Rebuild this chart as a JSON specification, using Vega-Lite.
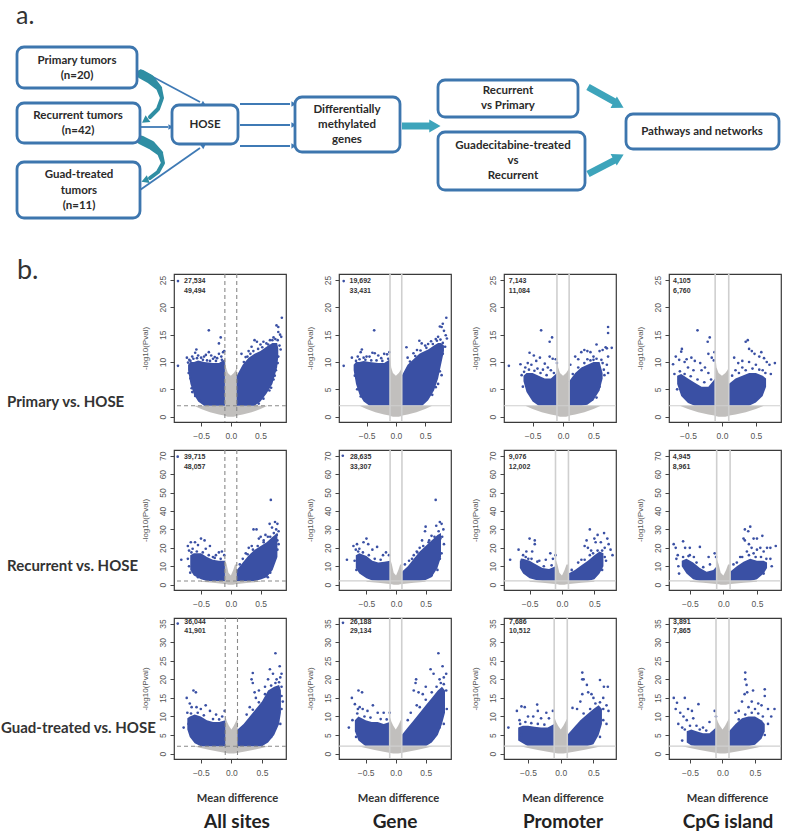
{"$schema":"https://vega.github.io/schema/vega-lite/v6.json","padding":0,"background":"white","spacing":7,
"config":{"view":{"stroke":"#3a3a3a","strokeWidth":1.2},
"axis":{"grid":false,"domain":false,"tickColor":"#444","tickSize":4,"labelColor":"#555","labelFont":"Liberation Sans","labelFontSize":8.5,"titleColor":"#555","titleFont":"Liberation Sans","titleFontSize":8,"titleFontWeight":"normal"},
"axisX":{"labelPadding":5,"titlePadding":16},
"axisY":{"labelAngle":-90,"labelPadding":3,"titlePadding":9},
"circle":{"color":"#3a50a4","size":7,"opacity":1},
"text":{"font":"Liberation Sans","fontSize":7,"fontWeight":"bold","align":"left","color":"#333"}},
"datasets":{
"vl":[{"x":-0.1},{"x":0.1}],"hl":[{"y":2}],
"boxes":[{"x":17,"x2":137,"y":47,"y2":88},{"x":17,"x2":140,"y":103,"y2":143},{"x":17,"x2":140,"y":162,"y2":218},{"x":172,"x2":238,"y":105,"y2":144},{"x":295,"x2":400,"y":97,"y2":152},{"x":438,"x2":578,"y":80,"y2":117},{"x":438,"x2":585,"y":132,"y2":190},{"x":626,"x2":779,"y":114,"y2":149}],
"thin":[{"x":140,"y":70,"x2":200,"y2":102},{"x":140,"y":127,"x2":168,"y2":127},{"x":140,"y":190,"x2":200,"y2":148},{"x":240,"y":104,"x2":290,"y2":104},{"x":240,"y":125,"x2":290,"y2":125},{"x":240,"y":146,"x2":290,"y2":146}],
"thinHead":[{"x":203,"y":104,"dir":118},{"x":170,"y":127,"dir":90},{"x":203,"y":146,"dir":55},{"x":293,"y":104,"dir":90},{"x":293,"y":125,"dir":90},{"x":293,"y":146,"dir":90}],
"thick":[{"x":402,"y":126,"x2":432,"y2":126},{"x":588,"y":87,"x2":615,"y2":102},{"x":588,"y":174,"x2":615,"y2":160}],
"thickHead":[{"x":433,"y":126,"dir":90},{"x":617,"y":104,"dir":119},{"x":617,"y":158,"dir":62}],
"curve":[{"k":"a","o":1,"x":141,"y":74,"w":9},{"k":"a","o":2,"x":150,"y":79,"w":9},{"k":"a","o":3,"x":159,"y":88,"w":6},{"k":"a","o":4,"x":162,"y":98,"w":4},{"k":"a","o":5,"x":158,"y":109,"w":4},{"k":"a","o":6,"x":150,"y":117,"w":4},{"k":"b","o":1,"x":141,"y":140,"w":9},{"k":"b","o":2,"x":151,"y":145,"w":9},{"k":"b","o":3,"x":160,"y":153,"w":6},{"k":"b","o":4,"x":163,"y":163,"w":4},{"k":"b","o":5,"x":158,"y":172,"w":4},{"k":"b","o":6,"x":150,"y":178,"w":4}],
"curveHead":[{"x":146,"y":120,"dir":235},{"x":146,"y":180,"dir":250}],
"flowText":[{"x":77,"y":61,"t":"Primary tumors"},{"x":77,"y":76,"t":"(n=20)"},{"x":78,"y":116,"t":"Recurrent tumors"},{"x":78,"y":131,"t":"(n=42)"},{"x":79,"y":175,"t":"Guad-treated"},{"x":79,"y":191,"t":"tumors"},{"x":79,"y":206,"t":"(n=11)"},{"x":205,"y":125,"t":"HOSE"},{"x":347,"y":110,"t":"Differentially"},{"x":347,"y":125,"t":"methylated"},{"x":347,"y":140,"t":"genes"},{"x":508,"y":91,"t":"Recurrent"},{"x":508,"y":106,"t":"vs Primary"},{"x":513,"y":146,"t":"Guadecitabine-treated"},{"x":513,"y":161,"t":"vs"},{"x":513,"y":176,"t":"Recurrent"},{"x":702,"y":132,"t":"Pathways and networks"}],
"g1":[{"x":-0.62,"y":2,"y2":2},{"x":-0.5,"y":1.4,"y2":2},{"x":-0.35,"y":0.8,"y2":2},{"x":-0.2,"y":0.4,"y2":2},{"x":-0.11,"y":0.2,"y2":2},{"x":-0.1,"y":0.15,"y2":11.5},{"x":-0.08,"y":0.1,"y2":9},{"x":-0.05,"y":0,"y2":8},{"x":0,"y":0,"y2":7.5},{"x":0.05,"y":0,"y2":8},{"x":0.08,"y":0.1,"y2":8.5},{"x":0.1,"y":0.15,"y2":9},{"x":0.11,"y":0.2,"y2":2},{"x":0.2,"y":0.4,"y2":2},{"x":0.35,"y":0.8,"y2":2},{"x":0.5,"y":1.4,"y2":2},{"x":0.62,"y":2,"y2":2}],
"g2":[{"x":-0.5,"y":1.6,"y2":2},{"x":-0.3,"y":1,"y2":2},{"x":-0.11,"y":0.3,"y2":2},{"x":-0.1,"y":0.3,"y2":14},{"x":-0.07,"y":0.2,"y2":11},{"x":-0.04,"y":0,"y2":6.5},{"x":0,"y":0,"y2":5},{"x":0.04,"y":0,"y2":8},{"x":0.07,"y":0.2,"y2":11},{"x":0.1,"y":0.3,"y2":11},{"x":0.11,"y":0.3,"y2":2},{"x":0.3,"y":1,"y2":2},{"x":0.5,"y":1.6,"y2":2}],
"g3":[{"x":-0.62,"y":2,"y2":2},{"x":-0.5,"y":1.5,"y2":2},{"x":-0.35,"y":1,"y2":2},{"x":-0.2,"y":0.5,"y2":2},{"x":-0.11,"y":0.2,"y2":2},{"x":-0.1,"y":0.2,"y2":10},{"x":-0.07,"y":0.1,"y2":8.5},{"x":-0.04,"y":0,"y2":7.5},{"x":0,"y":0,"y2":6.5},{"x":0.04,"y":0,"y2":7.5},{"x":0.07,"y":0.1,"y2":8.5},{"x":0.1,"y":0.2,"y2":9.5},{"x":0.11,"y":0.2,"y2":2},{"x":0.2,"y":0.5,"y2":2},{"x":0.35,"y":1,"y2":2},{"x":0.5,"y":1.5,"y2":2},{"x":0.62,"y":2,"y2":2}],
"b11":[{"w":"L","x":-0.72,"y":8.5,"y2":9.5},{"w":"L","x":-0.68,"y":6,"y2":10},{"w":"L","x":-0.62,"y":4,"y2":10},{"w":"L","x":-0.55,"y":2.8,"y2":10.3},{"w":"L","x":-0.45,"y":2,"y2":10},{"w":"L","x":-0.3,"y":2,"y2":9.8},{"w":"L","x":-0.2,"y":2,"y2":9.8},{"w":"L","x":-0.1,"y":2,"y2":10.5},{"w":"R","x":0.1,"y":2,"y2":7.5},{"w":"R","x":0.15,"y":2,"y2":8.5},{"w":"R","x":0.2,"y":2,"y2":9.5},{"w":"R","x":0.3,"y":2,"y2":10.8},{"w":"R","x":0.4,"y":2,"y2":11.5},{"w":"R","x":0.5,"y":2.8,"y2":12},{"w":"R","x":0.6,"y":4.2,"y2":12.8},{"w":"R","x":0.7,"y":6,"y2":13.5},{"w":"R","x":0.78,"y":9,"y2":13.5},{"w":"R","x":0.8,"y":11,"y2":12.5}],
"p11":[{"x":-0.89,"y":24.8},{"x":-0.89,"y":9.3},{"x":-0.37,"y":15.8},{"x":-0.2,"y":13.4},{"x":-0.17,"y":14.5},{"x":-0.74,"y":10.8},{"x":-0.58,"y":12.3},{"x":-0.6,"y":11.7},{"x":-0.65,"y":11},{"x":-0.7,"y":10.4},{"x":-0.72,"y":9.9},{"x":-0.55,"y":11.2},{"x":-0.5,"y":10.8},{"x":-0.45,"y":11},{"x":-0.42,"y":11.3},{"x":-0.37,"y":11.8},{"x":-0.33,"y":11.2},{"x":-0.3,"y":10.6},{"x":-0.27,"y":10.9},{"x":-0.23,"y":10.7},{"x":-0.2,"y":11.5},{"x":-0.16,"y":11},{"x":-0.13,"y":11.8},{"x":-0.11,"y":12},{"x":-0.68,"y":7},{"x":-0.66,"y":5.2},{"x":-0.6,"y":3.8},{"x":-0.52,"y":2.9},{"x":0.86,"y":18.1},{"x":0.8,"y":16.4},{"x":0.77,"y":16.7},{"x":0.83,"y":15},{"x":0.85,"y":14.6},{"x":0.8,"y":15.5},{"x":0.72,"y":14.5},{"x":0.66,"y":14},{"x":0.6,"y":13.4},{"x":0.55,"y":13.7},{"x":0.5,"y":13.2},{"x":0.44,"y":13.7},{"x":0.4,"y":14},{"x":0.35,"y":12.8},{"x":0.3,"y":12},{"x":0.18,"y":11.5},{"x":0.25,"y":10.9},{"x":0.82,"y":13},{"x":0.84,"y":12.3},{"x":0.8,"y":11},{"x":0.76,"y":8.5},{"x":0.72,"y":6.8},{"x":0.65,"y":4.8},{"x":0.55,"y":3.3},{"x":-0.68,"y":10.2},{"x":-0.63,"y":10.6},{"x":-0.57,"y":10.7},{"x":-0.47,"y":10.4},{"x":-0.4,"y":10.3},{"x":-0.35,"y":10.2},{"x":-0.25,"y":10.2},{"x":-0.15,"y":10.4},{"x":-0.71,"y":8},{"x":-0.65,"y":4.5},{"x":0.22,"y":10},{"x":0.28,"y":11},{"x":0.33,"y":11.5},{"x":0.38,"y":12},{"x":0.46,"y":12.4},{"x":0.53,"y":12.7},{"x":0.63,"y":13.2},{"x":0.7,"y":14},{"x":0.75,"y":14.2},{"x":0.79,"y":14},{"x":0.79,"y":9.8},{"x":0.74,"y":7.5},{"x":0.68,"y":5.3},{"x":0.47,"y":2.4}],
"b12":[{"w":"L","x":-0.72,"y":8.5,"y2":9.5},{"w":"L","x":-0.68,"y":6,"y2":10},{"w":"L","x":-0.62,"y":4,"y2":10},{"w":"L","x":-0.55,"y":2.8,"y2":10.2},{"w":"L","x":-0.45,"y":2,"y2":10},{"w":"L","x":-0.3,"y":2,"y2":9.8},{"w":"L","x":-0.2,"y":2,"y2":9.8},{"w":"L","x":-0.1,"y":2,"y2":10.5},{"w":"R","x":0.1,"y":2,"y2":7.5},{"w":"R","x":0.2,"y":2,"y2":9.5},{"w":"R","x":0.3,"y":2,"y2":10.5},{"w":"R","x":0.4,"y":2,"y2":11.5},{"w":"R","x":0.45,"y":2,"y2":11.8},{"w":"R","x":0.55,"y":3,"y2":12.3},{"w":"R","x":0.65,"y":4.8,"y2":13},{"w":"R","x":0.72,"y":7,"y2":13.5},{"w":"R","x":0.77,"y":9.5,"y2":13.5},{"w":"R","x":0.82,"y":12,"y2":13}],
"p12":[{"x":-0.89,"y":24.8},{"x":-0.89,"y":9.3},{"x":-0.37,"y":15.8},{"x":-0.58,"y":12.3},{"x":-0.75,"y":10.8},{"x":-0.65,"y":11},{"x":-0.6,"y":11.8},{"x":-0.55,"y":10.8},{"x":-0.5,"y":11},{"x":-0.45,"y":11},{"x":-0.4,"y":11.7},{"x":-0.36,"y":11.6},{"x":-0.3,"y":11.2},{"x":-0.25,"y":10.7},{"x":-0.2,"y":11.5},{"x":-0.15,"y":11.4},{"x":-0.11,"y":11.8},{"x":0.18,"y":12.7},{"x":0.2,"y":10.8},{"x":0.3,"y":11.6},{"x":0.36,"y":12.2},{"x":0.4,"y":13.9},{"x":0.44,"y":13.4},{"x":0.5,"y":13},{"x":0.55,"y":13.3},{"x":0.6,"y":13.8},{"x":0.68,"y":14.2},{"x":0.72,"y":14.6},{"x":0.75,"y":16.5},{"x":0.78,"y":16.4},{"x":0.8,"y":17},{"x":0.86,"y":18.1},{"x":0.82,"y":15.7},{"x":0.85,"y":14.9},{"x":0.87,"y":14.3},{"x":0.8,"y":11.5},{"x":0.78,"y":7.6},{"x":0.72,"y":6},{"x":0.62,"y":4},{"x":-0.7,"y":7.5},{"x":-0.66,"y":5},{"x":-0.6,"y":3.7},{"x":-0.68,"y":10.2},{"x":-0.62,"y":10.5},{"x":-0.52,"y":10.4},{"x":-0.42,"y":10.3},{"x":-0.33,"y":10.3},{"x":-0.23,"y":10.2},{"x":-0.13,"y":10.6},{"x":0.24,"y":10.1},{"x":0.33,"y":11.1},{"x":0.42,"y":12.1},{"x":0.52,"y":12.6},{"x":0.63,"y":13.3},{"x":0.7,"y":13.9},{"x":0.76,"y":14.1},{"x":0.8,"y":13.5},{"x":0.84,"y":12.8},{"x":0.75,"y":8.3},{"x":0.68,"y":5.4}],
"b13":[{"w":"L","x":-0.65,"y":6.5,"y2":7.5},{"w":"L","x":-0.6,"y":4.5,"y2":8},{"w":"L","x":-0.5,"y":2.8,"y2":8},{"w":"L","x":-0.4,"y":2,"y2":7.5},{"w":"L","x":-0.3,"y":2,"y2":7},{"w":"L","x":-0.2,"y":2,"y2":7},{"w":"L","x":-0.1,"y":2,"y2":8},{"w":"R","x":0.1,"y":2,"y2":6.5},{"w":"R","x":0.2,"y":2,"y2":8},{"w":"R","x":0.3,"y":2,"y2":9},{"w":"R","x":0.4,"y":2.2,"y2":9.5},{"w":"R","x":0.5,"y":3,"y2":10},{"w":"R","x":0.6,"y":4.8,"y2":10},{"w":"R","x":0.65,"y":7,"y2":8}],
"p13":[{"x":-0.89,"y":9.3},{"x":-0.36,"y":15.8},{"x":-0.18,"y":14.5},{"x":-0.22,"y":13.7},{"x":-0.55,"y":11.7},{"x":-0.48,"y":11.2},{"x":-0.44,"y":10.2},{"x":-0.38,"y":10.8},{"x":-0.3,"y":9.7},{"x":-0.22,"y":11},{"x":-0.17,"y":10.6},{"x":-0.12,"y":10.5},{"x":-0.1,"y":9.8},{"x":-0.7,"y":9.6},{"x":-0.62,"y":9},{"x":-0.58,"y":9.8},{"x":-0.52,"y":9.5},{"x":-0.42,"y":8.8},{"x":-0.33,"y":8.6},{"x":-0.25,"y":9},{"x":-0.2,"y":8.5},{"x":-0.68,"y":7.6},{"x":-0.66,"y":5.5},{"x":0.12,"y":9.5},{"x":0.2,"y":11},{"x":0.25,"y":10.5},{"x":0.3,"y":11.8},{"x":0.35,"y":12.2},{"x":0.4,"y":12},{"x":0.45,"y":11.8},{"x":0.5,"y":11},{"x":0.55,"y":13.2},{"x":0.6,"y":12},{"x":0.65,"y":12.2},{"x":0.7,"y":12.7},{"x":0.72,"y":12.5},{"x":0.74,"y":16.4},{"x":0.74,"y":15.3},{"x":0.8,"y":12.6},{"x":0.74,"y":11},{"x":0.72,"y":9.5},{"x":0.74,"y":8},{"x":0.68,"y":7.6},{"x":0.65,"y":9.8},{"x":0.6,"y":5.5},{"x":0.55,"y":3.5},{"x":0.4,"y":10.5},{"x":0.5,"y":10.4},{"x":-0.64,"y":8.2},{"x":-0.56,"y":8.6},{"x":-0.47,"y":8.4},{"x":-0.37,"y":8},{"x":-0.27,"y":7.6},{"x":-0.15,"y":8},{"x":0.16,"y":7.8},{"x":0.25,"y":9},{"x":0.35,"y":9.8},{"x":0.45,"y":10.3},{"x":0.55,"y":10.6},{"x":0.63,"y":10.4},{"x":0.67,"y":8.6}],
"b14":[{"w":"L","x":-0.66,"y":6,"y2":7.5},{"w":"L","x":-0.6,"y":3.8,"y2":7.8},{"w":"L","x":-0.5,"y":2.5,"y2":7},{"w":"L","x":-0.4,"y":2,"y2":6.2},{"w":"L","x":-0.3,"y":2,"y2":5.5},{"w":"L","x":-0.2,"y":2,"y2":5.5},{"w":"L","x":-0.1,"y":2,"y2":7},{"w":"R","x":0.1,"y":2,"y2":6},{"w":"R","x":0.2,"y":2,"y2":7},{"w":"R","x":0.3,"y":2,"y2":7.5},{"w":"R","x":0.4,"y":2,"y2":8},{"w":"R","x":0.5,"y":2.6,"y2":8},{"w":"R","x":0.6,"y":3.8,"y2":7.5},{"w":"R","x":0.65,"y":5.5,"y2":7}],
"p14":[{"x":-0.36,"y":15.8},{"x":-0.18,"y":14.5},{"x":-0.21,"y":13.7},{"x":-0.59,"y":12.4},{"x":-0.6,"y":11.9},{"x":-0.68,"y":11},{"x":-0.72,"y":9.6},{"x":-0.63,"y":10.4},{"x":-0.55,"y":10},{"x":-0.52,"y":10.5},{"x":-0.45,"y":10.8},{"x":-0.4,"y":10.2},{"x":-0.32,"y":9.8},{"x":-0.25,"y":9},{"x":-0.2,"y":11.5},{"x":-0.15,"y":10.8},{"x":-0.11,"y":11.8},{"x":-0.12,"y":10.3},{"x":-0.5,"y":9},{"x":-0.42,"y":8.5},{"x":-0.3,"y":8.5},{"x":-0.2,"y":8},{"x":-0.7,"y":7.8},{"x":-0.66,"y":5},{"x":0.18,"y":10.8},{"x":0.24,"y":9.8},{"x":0.3,"y":10.2},{"x":0.35,"y":13.7},{"x":0.38,"y":14},{"x":0.4,"y":12.4},{"x":0.44,"y":12},{"x":0.48,"y":11.5},{"x":0.55,"y":11},{"x":0.58,"y":11.8},{"x":0.62,"y":10.7},{"x":0.66,"y":10},{"x":0.7,"y":9.5},{"x":0.78,"y":9.8},{"x":0.72,"y":7.8},{"x":0.6,"y":8.5},{"x":0.5,"y":9.5},{"x":0.4,"y":10},{"x":0.3,"y":9},{"x":0.2,"y":8.5},{"x":0.15,"y":7.5},{"x":0.62,"y":6},{"x":0.5,"y":3.2},{"x":-0.62,"y":8.3},{"x":-0.55,"y":7.8},{"x":-0.46,"y":7.4},{"x":-0.36,"y":6.8},{"x":-0.26,"y":6.3},{"x":-0.16,"y":6.8},{"x":0.25,"y":8},{"x":0.35,"y":8.5},{"x":0.45,"y":8.8},{"x":0.55,"y":8.6},{"x":0.64,"y":8}],
"b21":[{"w":"L","x":-0.68,"y":8,"y2":16},{"w":"L","x":-0.62,"y":5,"y2":17},{"w":"L","x":-0.5,"y":3,"y2":17},{"w":"L","x":-0.4,"y":2,"y2":15},{"w":"L","x":-0.3,"y":2,"y2":13.5},{"w":"L","x":-0.2,"y":2,"y2":13},{"w":"L","x":-0.1,"y":2,"y2":13},{"w":"R","x":0.1,"y":2,"y2":8},{"w":"R","x":0.2,"y":2,"y2":12},{"w":"R","x":0.3,"y":2,"y2":16},{"w":"R","x":0.4,"y":2,"y2":19},{"w":"R","x":0.5,"y":2.8,"y2":21},{"w":"R","x":0.6,"y":4,"y2":23},{"w":"R","x":0.7,"y":8,"y2":26},{"w":"R","x":0.78,"y":15,"y2":28}],
"p21":[{"x":-0.89,"y":69.5},{"x":-0.83,"y":13.5},{"x":-0.72,"y":21},{"x":-0.67,"y":23},{"x":-0.6,"y":23},{"x":-0.55,"y":21.5},{"x":-0.5,"y":25},{"x":-0.44,"y":24},{"x":-0.42,"y":19.5},{"x":-0.35,"y":21},{"x":-0.7,"y":18.5},{"x":-0.64,"y":19.5},{"x":-0.3,"y":15},{"x":-0.2,"y":17.5},{"x":-0.15,"y":18},{"x":-0.11,"y":16},{"x":-0.25,"y":16},{"x":-0.72,"y":14},{"x":-0.7,"y":10},{"x":-0.68,"y":6.5},{"x":0.67,"y":46},{"x":0.74,"y":34},{"x":0.78,"y":33},{"x":0.65,"y":33},{"x":0.69,"y":31},{"x":0.8,"y":29},{"x":0.77,"y":27},{"x":0.8,"y":22},{"x":0.78,"y":19},{"x":0.75,"y":15},{"x":0.62,"y":26},{"x":0.58,"y":27},{"x":0.55,"y":24},{"x":0.5,"y":26},{"x":0.47,"y":25},{"x":0.43,"y":30},{"x":0.38,"y":30},{"x":0.35,"y":21},{"x":0.3,"y":20},{"x":0.25,"y":17},{"x":0.2,"y":14},{"x":0.15,"y":11},{"x":0.7,"y":11},{"x":0.6,"y":6},{"x":0.62,"y":4},{"x":-0.55,"y":4},{"x":-0.66,"y":17.5},{"x":-0.57,"y":18},{"x":-0.47,"y":17.5},{"x":-0.37,"y":16},{"x":-0.27,"y":14.5},{"x":-0.17,"y":14},{"x":0.28,"y":16.5},{"x":0.37,"y":19},{"x":0.45,"y":21},{"x":0.55,"y":23},{"x":0.66,"y":26},{"x":0.72,"y":28},{"x":0.76,"y":30},{"x":0.78,"y":24},{"x":0.66,"y":6.5}],
"b22":[{"w":"L","x":-0.68,"y":9,"y2":16},{"w":"L","x":-0.62,"y":6,"y2":17},{"w":"L","x":-0.5,"y":3.5,"y2":15.5},{"w":"L","x":-0.4,"y":2.3,"y2":13},{"w":"L","x":-0.3,"y":2,"y2":12},{"w":"L","x":-0.2,"y":2,"y2":12.5},{"w":"L","x":-0.1,"y":2,"y2":13},{"w":"R","x":0.1,"y":2,"y2":7},{"w":"R","x":0.2,"y":2,"y2":10},{"w":"R","x":0.3,"y":2,"y2":14},{"w":"R","x":0.4,"y":2,"y2":18},{"w":"R","x":0.5,"y":2.5,"y2":21},{"w":"R","x":0.6,"y":4,"y2":24},{"w":"R","x":0.7,"y":9,"y2":27},{"w":"R","x":0.76,"y":15,"y2":28}],
"p22":[{"x":-0.9,"y":70},{"x":-0.83,"y":13.5},{"x":-0.72,"y":21},{"x":-0.66,"y":22},{"x":-0.62,"y":19.5},{"x":-0.55,"y":23},{"x":-0.5,"y":25},{"x":-0.47,"y":22},{"x":-0.4,"y":19},{"x":-0.32,"y":20.5},{"x":-0.22,"y":16},{"x":-0.17,"y":17.5},{"x":-0.12,"y":16},{"x":-0.68,"y":19},{"x":-0.7,"y":13},{"x":-0.67,"y":8},{"x":0.67,"y":46},{"x":0.74,"y":34},{"x":0.77,"y":33},{"x":0.68,"y":32},{"x":0.8,"y":30},{"x":0.78,"y":26},{"x":0.81,"y":22},{"x":0.77,"y":17},{"x":0.74,"y":14},{"x":0.5,"y":31.5},{"x":0.49,"y":29},{"x":0.6,"y":26.5},{"x":0.55,"y":23},{"x":0.44,"y":24},{"x":0.4,"y":20},{"x":0.35,"y":18},{"x":0.3,"y":16},{"x":0.22,"y":13},{"x":0.15,"y":11},{"x":0.7,"y":8},{"x":0.6,"y":5},{"x":-0.64,"y":18},{"x":-0.56,"y":17.5},{"x":-0.46,"y":16},{"x":-0.36,"y":14},{"x":-0.26,"y":13.5},{"x":0.27,"y":14},{"x":0.36,"y":17.5},{"x":0.46,"y":21},{"x":0.56,"y":24},{"x":0.65,"y":26},{"x":0.72,"y":29},{"x":0.75,"y":25}],
"b23":[{"w":"L","x":-0.65,"y":9,"y2":13},{"w":"L","x":-0.6,"y":6,"y2":14},{"w":"L","x":-0.5,"y":3.5,"y2":13},{"w":"L","x":-0.4,"y":2.5,"y2":11},{"w":"L","x":-0.3,"y":2,"y2":9},{"w":"L","x":-0.2,"y":2,"y2":8.5},{"w":"L","x":-0.1,"y":2,"y2":10},{"w":"R","x":0.1,"y":2,"y2":6},{"w":"R","x":0.2,"y":2,"y2":8},{"w":"R","x":0.3,"y":2,"y2":10.5},{"w":"R","x":0.4,"y":2,"y2":13},{"w":"R","x":0.5,"y":3,"y2":16},{"w":"R","x":0.58,"y":6,"y2":18},{"w":"R","x":0.64,"y":10,"y2":17}],
"p23":[{"x":-0.8,"y":13.5},{"x":-0.67,"y":19},{"x":-0.6,"y":16},{"x":-0.55,"y":18},{"x":-0.5,"y":25},{"x":-0.46,"y":18},{"x":-0.42,"y":24},{"x":-0.42,"y":22},{"x":-0.52,"y":14},{"x":-0.62,"y":13.5},{"x":-0.35,"y":13},{"x":-0.25,"y":13.5},{"x":-0.18,"y":17},{"x":-0.14,"y":14},{"x":-0.1,"y":16},{"x":-0.58,"y":9},{"x":0.3,"y":13.5},{"x":0.35,"y":21},{"x":0.38,"y":24},{"x":0.4,"y":20},{"x":0.43,"y":30},{"x":0.45,"y":18.5},{"x":0.5,"y":25},{"x":0.52,"y":23},{"x":0.55,"y":27},{"x":0.6,"y":23},{"x":0.65,"y":28},{"x":0.7,"y":25},{"x":0.72,"y":22},{"x":0.78,"y":16},{"x":0.75,"y":19},{"x":0.66,"y":20},{"x":0.68,"y":13},{"x":0.62,"y":8},{"x":0.25,"y":12},{"x":0.15,"y":8},{"x":-0.56,"y":15},{"x":-0.47,"y":14},{"x":-0.38,"y":12.5},{"x":-0.28,"y":10},{"x":-0.16,"y":10.5},{"x":0.35,"y":13.5},{"x":0.43,"y":16},{"x":0.48,"y":17},{"x":0.55,"y":18.5},{"x":0.62,"y":18.5},{"x":0.66,"y":15}],
"b24":[{"w":"L","x":-0.62,"y":10,"y2":13},{"w":"L","x":-0.55,"y":6,"y2":14},{"w":"L","x":-0.45,"y":3,"y2":12},{"w":"L","x":-0.35,"y":2,"y2":9},{"w":"L","x":-0.25,"y":2,"y2":7},{"w":"L","x":-0.15,"y":2,"y2":8},{"w":"L","x":-0.1,"y":2,"y2":10},{"w":"R","x":0.1,"y":2,"y2":7},{"w":"R","x":0.2,"y":2,"y2":10},{"w":"R","x":0.3,"y":2,"y2":12.5},{"w":"R","x":0.4,"y":2,"y2":14},{"w":"R","x":0.5,"y":3,"y2":13},{"w":"R","x":0.6,"y":6,"y2":13},{"w":"R","x":0.65,"y":9,"y2":12}],
"p24":[{"x":-0.74,"y":22},{"x":-0.71,"y":20},{"x":-0.6,"y":23.5},{"x":-0.57,"y":20},{"x":-0.5,"y":20},{"x":-0.35,"y":20.5},{"x":-0.68,"y":16},{"x":-0.7,"y":14},{"x":-0.67,"y":10},{"x":-0.66,"y":6},{"x":-0.5,"y":16},{"x":-0.44,"y":15},{"x":-0.22,"y":15},{"x":-0.13,"y":17},{"x":-0.11,"y":15},{"x":-0.2,"y":11},{"x":0.32,"y":30},{"x":0.4,"y":31.5},{"x":0.37,"y":29},{"x":0.3,"y":25},{"x":0.32,"y":24},{"x":0.38,"y":22},{"x":0.45,"y":25},{"x":0.5,"y":25},{"x":0.58,"y":26.5},{"x":0.42,"y":20},{"x":0.5,"y":19},{"x":0.55,"y":20},{"x":0.6,"y":18},{"x":0.65,"y":20},{"x":0.7,"y":20},{"x":0.78,"y":21},{"x":0.7,"y":14},{"x":0.72,"y":10},{"x":0.25,"y":15},{"x":0.2,"y":12},{"x":0.15,"y":11},{"x":0.6,"y":6},{"x":0.35,"y":18},{"x":0.45,"y":17},{"x":-0.6,"y":15},{"x":-0.52,"y":15.5},{"x":-0.4,"y":12},{"x":-0.3,"y":9.5},{"x":0.28,"y":15},{"x":0.38,"y":16},{"x":0.48,"y":15},{"x":0.56,"y":15},{"x":0.64,"y":14}],
"b31":[{"w":"L","x":-0.72,"y":6.5,"y2":9.5},{"w":"L","x":-0.68,"y":4.5,"y2":10},{"w":"L","x":-0.6,"y":2.8,"y2":10.5},{"w":"L","x":-0.5,"y":2,"y2":10},{"w":"L","x":-0.4,"y":2,"y2":9},{"w":"L","x":-0.3,"y":2,"y2":8.5},{"w":"L","x":-0.2,"y":2,"y2":8.5},{"w":"L","x":-0.1,"y":2,"y2":9},{"w":"R","x":0.1,"y":2,"y2":6.5},{"w":"R","x":0.2,"y":2,"y2":8},{"w":"R","x":0.3,"y":2,"y2":10},{"w":"R","x":0.4,"y":2,"y2":12},{"w":"R","x":0.5,"y":2,"y2":14},{"w":"R","x":0.6,"y":3,"y2":17},{"w":"R","x":0.7,"y":5,"y2":18},{"w":"R","x":0.78,"y":8,"y2":18.5},{"w":"R","x":0.81,"y":11,"y2":17}],
"p31":[{"x":-0.877,"y":35},{"x":-0.78,"y":7},{"x":-0.73,"y":15},{"x":-0.62,"y":17},{"x":-0.58,"y":16.5},{"x":-0.68,"y":13.5},{"x":-0.65,"y":12.5},{"x":-0.57,"y":12.5},{"x":-0.5,"y":12},{"x":-0.42,"y":13},{"x":-0.35,"y":11.5},{"x":-0.25,"y":10.5},{"x":-0.15,"y":10},{"x":-0.11,"y":11.5},{"x":-0.72,"y":11},{"x":-0.7,"y":8},{"x":0.72,"y":27},{"x":0.79,"y":23.5},{"x":0.63,"y":22.7},{"x":0.68,"y":21.5},{"x":0.35,"y":21.7},{"x":0.33,"y":20},{"x":0.35,"y":19},{"x":0.82,"y":21.5},{"x":0.8,"y":20.5},{"x":0.74,"y":20},{"x":0.6,"y":20},{"x":0.55,"y":18},{"x":0.45,"y":17},{"x":0.38,"y":16.5},{"x":0.4,"y":15},{"x":0.3,"y":12.5},{"x":0.25,"y":10.5},{"x":0.82,"y":18},{"x":0.84,"y":14},{"x":0.82,"y":12},{"x":0.8,"y":8},{"x":0.72,"y":7},{"x":0.65,"y":4.5},{"x":0.5,"y":2.5},{"x":-0.66,"y":10.8},{"x":-0.55,"y":11},{"x":-0.45,"y":10.3},{"x":-0.3,"y":9.3},{"x":-0.2,"y":9.2},{"x":0.35,"y":11.8},{"x":0.45,"y":13.8},{"x":0.55,"y":16},{"x":0.65,"y":18.3},{"x":0.72,"y":19},{"x":0.78,"y":19.2},{"x":0.82,"y":15.5}],
"b32":[{"w":"L","x":-0.68,"y":6,"y2":9},{"w":"L","x":-0.62,"y":3.5,"y2":10},{"w":"L","x":-0.5,"y":2,"y2":9},{"w":"L","x":-0.4,"y":2,"y2":8.5},{"w":"L","x":-0.3,"y":2,"y2":8.5},{"w":"L","x":-0.2,"y":2,"y2":8},{"w":"L","x":-0.1,"y":2,"y2":8.5},{"w":"R","x":0.1,"y":2,"y2":5},{"w":"R","x":0.2,"y":2,"y2":7},{"w":"R","x":0.3,"y":2,"y2":9},{"w":"R","x":0.4,"y":2,"y2":11},{"w":"R","x":0.5,"y":2,"y2":13},{"w":"R","x":0.6,"y":3,"y2":15},{"w":"R","x":0.7,"y":5,"y2":17},{"w":"R","x":0.77,"y":8,"y2":18},{"w":"R","x":0.82,"y":11,"y2":17}],
"p32":[{"x":-0.878,"y":35.2},{"x":-0.78,"y":7},{"x":-0.73,"y":15},{"x":-0.62,"y":17},{"x":-0.56,"y":16.5},{"x":-0.68,"y":13.3},{"x":-0.63,"y":12},{"x":-0.6,"y":12.5},{"x":-0.55,"y":12},{"x":-0.47,"y":11.5},{"x":-0.38,"y":13},{"x":-0.3,"y":11},{"x":-0.2,"y":11},{"x":-0.1,"y":11},{"x":-0.72,"y":9},{"x":-0.66,"y":4.5},{"x":0.71,"y":27},{"x":0.78,"y":23.5},{"x":0.58,"y":22.7},{"x":0.63,"y":21.5},{"x":0.34,"y":20},{"x":0.33,"y":19},{"x":0.3,"y":17},{"x":0.38,"y":16.5},{"x":0.84,"y":21.5},{"x":0.8,"y":20.5},{"x":0.73,"y":20},{"x":0.5,"y":18},{"x":0.45,"y":16},{"x":0.35,"y":13},{"x":0.25,"y":11},{"x":0.2,"y":9},{"x":0.84,"y":17},{"x":0.85,"y":12},{"x":0.8,"y":8},{"x":0.73,"y":7},{"x":0.62,"y":4},{"x":0.5,"y":2.5},{"x":-0.64,"y":10.8},{"x":-0.52,"y":10},{"x":-0.42,"y":9.7},{"x":-0.25,"y":9.3},{"x":-0.15,"y":9.2},{"x":0.4,"y":12.5},{"x":0.5,"y":14.5},{"x":0.6,"y":16.5},{"x":0.68,"y":18},{"x":0.75,"y":19},{"x":0.8,"y":18.7}],
"b33":[{"w":"L","x":-0.65,"y":3.5,"y2":7},{"w":"L","x":-0.58,"y":2.8,"y2":7.5},{"w":"L","x":-0.5,"y":2,"y2":7.5},{"w":"L","x":-0.4,"y":2,"y2":7.2},{"w":"L","x":-0.3,"y":2,"y2":7},{"w":"L","x":-0.2,"y":2,"y2":7},{"w":"L","x":-0.1,"y":2,"y2":8},{"w":"R","x":0.1,"y":2,"y2":5},{"w":"R","x":0.2,"y":2,"y2":7},{"w":"R","x":0.3,"y":2,"y2":9},{"w":"R","x":0.4,"y":2,"y2":10.5},{"w":"R","x":0.5,"y":2.5,"y2":12},{"w":"R","x":0.58,"y":5,"y2":13},{"w":"R","x":0.63,"y":8,"y2":12}],
"p33":[{"x":-0.8,"y":7},{"x":-0.67,"y":11.5},{"x":-0.6,"y":12.7},{"x":-0.55,"y":12.5},{"x":-0.63,"y":9},{"x":-0.5,"y":10},{"x":-0.42,"y":10},{"x":-0.36,"y":13.2},{"x":-0.35,"y":11.5},{"x":-0.3,"y":9.5},{"x":-0.22,"y":11},{"x":-0.12,"y":11.5},{"x":-0.18,"y":9.5},{"x":-0.6,"y":5},{"x":0.18,"y":12.3},{"x":0.3,"y":14},{"x":0.33,"y":21.8},{"x":0.33,"y":20},{"x":0.35,"y":20},{"x":0.4,"y":18.5},{"x":0.33,"y":16},{"x":0.42,"y":16.5},{"x":0.47,"y":16},{"x":0.5,"y":15},{"x":0.6,"y":19.8},{"x":0.66,"y":18},{"x":0.72,"y":18},{"x":0.65,"y":15},{"x":0.7,"y":13},{"x":0.73,"y":11.5},{"x":0.7,"y":8},{"x":0.65,"y":9},{"x":0.25,"y":12},{"x":0.6,"y":4.5},{"x":0.45,"y":3},{"x":-0.62,"y":8},{"x":-0.54,"y":8.5},{"x":-0.45,"y":8.2},{"x":-0.35,"y":8},{"x":-0.25,"y":7.8},{"x":0.35,"y":10.8},{"x":0.45,"y":12},{"x":0.53,"y":13.5},{"x":0.6,"y":13.8},{"x":0.65,"y":12}],
"b34":[{"w":"L","x":-0.55,"y":3,"y2":6},{"w":"L","x":-0.48,"y":2.2,"y2":6.5},{"w":"L","x":-0.4,"y":2,"y2":6},{"w":"L","x":-0.3,"y":2,"y2":5.5},{"w":"L","x":-0.2,"y":2,"y2":5.5},{"w":"L","x":-0.1,"y":2,"y2":7},{"w":"R","x":0.1,"y":2,"y2":6},{"w":"R","x":0.2,"y":2,"y2":8},{"w":"R","x":0.3,"y":2,"y2":9.5},{"w":"R","x":0.4,"y":2,"y2":10},{"w":"R","x":0.5,"y":2.4,"y2":10},{"w":"R","x":0.6,"y":4,"y2":9},{"w":"R","x":0.65,"y":6,"y2":8}],
"p34":[{"x":-0.75,"y":15},{"x":-0.7,"y":13.7},{"x":-0.58,"y":15},{"x":-0.72,"y":12},{"x":-0.65,"y":11},{"x":-0.53,"y":12},{"x":-0.47,"y":11.5},{"x":-0.37,"y":13.3},{"x":-0.6,"y":10},{"x":-0.55,"y":9},{"x":-0.45,"y":9.5},{"x":-0.68,"y":8},{"x":-0.62,"y":7},{"x":-0.62,"y":3.5},{"x":-0.4,"y":7.5},{"x":-0.3,"y":7},{"x":-0.2,"y":8.5},{"x":-0.12,"y":11.5},{"x":-0.1,"y":10},{"x":0.35,"y":21.8},{"x":0.35,"y":20},{"x":0.37,"y":18.5},{"x":0.47,"y":17},{"x":0.65,"y":17.3},{"x":0.65,"y":15.5},{"x":0.38,"y":16.5},{"x":0.34,"y":16},{"x":0.3,"y":14},{"x":0.45,"y":14},{"x":0.55,"y":13.5},{"x":0.6,"y":13},{"x":0.7,"y":12},{"x":0.8,"y":12},{"x":0.75,"y":10},{"x":0.7,"y":8},{"x":0.2,"y":11},{"x":0.25,"y":11.5},{"x":0.4,"y":12.5},{"x":0.5,"y":12},{"x":0.65,"y":5},{"x":-0.58,"y":6.5},{"x":-0.5,"y":7.5},{"x":-0.35,"y":6.5},{"x":-0.25,"y":6.2},{"x":0.25,"y":9.2},{"x":0.35,"y":10.5},{"x":0.45,"y":11},{"x":0.55,"y":10.8},{"x":0.62,"y":10}]
},
"vconcat":[
{"width":800,"height":250,"view":{"stroke":null},
"encoding":{"x":{"field":"x","type":"quantitative","scale":{"domain":[0,800]},"axis":null},"y":{"field":"y","type":"quantitative","scale":{"domain":[250,0]},"axis":null}},
"layer":[
{"data":{"name":"thin"},"mark":{"type":"rule","stroke":"#3f7ab5","strokeWidth":1.8},"encoding":{"x2":{"field":"x2"},"y2":{"field":"y2"}}},
{"data":{"name":"thinHead"},"mark":{"type":"point","shape":"triangle","filled":true,"color":"#3f7ab5","size":32,"opacity":1},"encoding":{"angle":{"field":"dir","type":"quantitative","scale":null}}},
{"data":{"name":"thick"},"mark":{"type":"rule","stroke":"#3da4bb","strokeWidth":7},"encoding":{"x2":{"field":"x2"},"y2":{"field":"y2"}}},
{"data":{"name":"thickHead"},"mark":{"type":"point","shape":"triangle","filled":true,"color":"#3da4bb","size":170,"opacity":1},"encoding":{"angle":{"field":"dir","type":"quantitative","scale":null}}},
{"data":{"name":"curve"},"mark":{"type":"trail","color":"#2f8ea3"},"encoding":{"size":{"field":"w","type":"quantitative","scale":null},"detail":{"field":"k"},"order":{"field":"o"}}},
{"data":{"name":"curveHead"},"mark":{"type":"point","shape":"triangle","filled":true,"color":"#2f8ea3","size":70,"opacity":1},"encoding":{"angle":{"field":"dir","type":"quantitative","scale":null}}},
{"data":{"name":"boxes"},"mark":{"type":"rect","cornerRadius":7,"fill":"white","stroke":"#3d76ae","strokeWidth":2.8},"encoding":{"x2":{"field":"x2"},"y2":{"field":"y2"}}},
{"data":{"name":"flowText"},"mark":{"type":"text","font":"Lato","fontSize":11.5,"fontWeight":"bold","align":"center","baseline":"middle","color":"#2a2a2a"},"encoding":{"text":{"field":"t"}}},
{"data":{"values":[{"x":16,"y":24,"t":"a."}]},"mark":{"type":"text","font":"Lato","fontSize":25,"fontWeight":"normal","align":"left","baseline":"alphabetic","color":"#333"},"encoding":{"text":{"field":"t"}}}
]},
{"hconcat":[
{"width":121,"height":148,"view":{"stroke":null},"data":{"values":[{"x":7,"y":400,"t":"Primary vs. HOSE","k":"r"},{"x":17,"y":277,"t":"b.","k":"h"}]},
"encoding":{"x":{"field":"x","type":"quantitative","scale":{"domain":[0,121]},"axis":null},"y":{"field":"y","type":"quantitative","scale":{"domain":[420,272]},"axis":null},"text":{"field":"t"}},
"layer":[{"transform":[{"filter":"datum.k=='r'"}],"mark":{"type":"text","font":"Lato","fontSize":15,"fontWeight":"bold","baseline":"middle","color":"#333"}},{"transform":[{"filter":"datum.k=='h'"}],"mark":{"type":"text","font":"Lato","fontSize":27,"fontWeight":"normal","baseline":"alphabetic","color":"#333"}}]},
{"width":112,"height":148,"layer":[{"data":{"name":"g1"},"mark":{"type":"area","color":"#c1bfbd"},"encoding":{"y2":{"field":"y2"}}},{"data":{"name":"b11"},"mark":{"type":"area","color":"#3a50a4"},"encoding":{"y2":{"field":"y2"},"detail":{"field":"w"}}},{"data":{"name":"p11"},"mark":"circle"},{"data":{"name":"vl"},"mark":{"type":"rule","color":"#8a8a8a","strokeDash":[4,3],"strokeWidth":1.1},"encoding":{"y":null}},{"data":{"name":"hl"},"mark":{"type":"rule","color":"#8a8a8a","strokeDash":[4,3],"strokeWidth":1.1},"encoding":{"x":null}},{"data":{"values":[{"x":-0.787,"y":24.8,"t":"27,534"},{"x":-0.787,"y":23,"t":"49,494"}]},"mark":{"type":"text","baseline":"middle"},"encoding":{"text":{"field":"t"}}}],
"encoding":{"x":{"field":"x","type":"quantitative","scale":{"domain":[-0.957,0.93]},"axis":{"values":[-0.5,0,0.5],"format":".1f","title":null}},"y":{"field":"y","type":"quantitative","scale":{"domain":[-0.97,26.1]},"axis":{"values":[0,5,10,15,20,25],"title":"-log10(Pval)"}}}},
{"width":112,"height":148,"layer":[{"data":{"name":"g1"},"mark":{"type":"area","color":"#c1bfbd"},"encoding":{"y2":{"field":"y2"}}},{"data":{"name":"b12"},"mark":{"type":"area","color":"#3a50a4"},"encoding":{"y2":{"field":"y2"},"detail":{"field":"w"}}},{"data":{"name":"p12"},"mark":"circle"},{"data":{"name":"vl"},"mark":{"type":"rule","color":"#cfcfcf","strokeWidth":1.6},"encoding":{"y":null}},{"data":{"name":"hl"},"mark":{"type":"rule","color":"#cfcfcf","strokeWidth":1.2},"encoding":{"x":null}},{"data":{"values":[{"x":-0.79,"y":24.8,"t":"19,692"},{"x":-0.79,"y":23,"t":"33,431"}]},"mark":{"type":"text","baseline":"middle"},"encoding":{"text":{"field":"t"}}}],
"encoding":{"x":{"field":"x","type":"quantitative","scale":{"domain":[-0.97,0.94]},"axis":{"values":[-0.5,0,0.5],"format":".1f","title":null}},"y":{"field":"y","type":"quantitative","scale":{"domain":[-0.97,26.1]},"axis":{"values":[0,5,10,15,20,25],"title":"-log10(Pval)"}}}},
{"width":112,"height":148,"layer":[{"data":{"name":"g1"},"mark":{"type":"area","color":"#c1bfbd"},"encoding":{"y2":{"field":"y2"}}},{"data":{"name":"b13"},"mark":{"type":"area","color":"#3a50a4"},"encoding":{"y2":{"field":"y2"},"detail":{"field":"w"}}},{"data":{"name":"p13"},"mark":"circle"},{"data":{"name":"vl"},"mark":{"type":"rule","color":"#cfcfcf","strokeWidth":1.6},"encoding":{"y":null}},{"data":{"name":"hl"},"mark":{"type":"rule","color":"#cfcfcf","strokeWidth":1.2},"encoding":{"x":null}},{"data":{"values":[{"x":-0.89,"y":24.8,"t":"7,143"},{"x":-0.89,"y":23,"t":"11,084"}]},"mark":{"type":"text","baseline":"middle"},"encoding":{"text":{"field":"t"}}}],
"encoding":{"x":{"field":"x","type":"quantitative","scale":{"domain":[-0.97,0.87]},"axis":{"values":[-0.5,0,0.5],"format":".1f","title":null}},"y":{"field":"y","type":"quantitative","scale":{"domain":[-0.97,26.1]},"axis":{"values":[0,5,10,15,20,25],"title":"-log10(Pval)"}}}},
{"width":112,"height":148,"layer":[{"data":{"name":"g1"},"mark":{"type":"area","color":"#c1bfbd"},"encoding":{"y2":{"field":"y2"}}},{"data":{"name":"b14"},"mark":{"type":"area","color":"#3a50a4"},"encoding":{"y2":{"field":"y2"},"detail":{"field":"w"}}},{"data":{"name":"p14"},"mark":"circle"},{"data":{"name":"vl"},"mark":{"type":"rule","color":"#cfcfcf","strokeWidth":1.6},"encoding":{"y":null}},{"data":{"name":"hl"},"mark":{"type":"rule","color":"#cfcfcf","strokeWidth":1.2},"encoding":{"x":null}},{"data":{"values":[{"x":-0.72,"y":24.8,"t":"4,105"},{"x":-0.72,"y":23,"t":"6,760"}]},"mark":{"type":"text","baseline":"middle"},"encoding":{"text":{"field":"t"}}}],
"encoding":{"x":{"field":"x","type":"quantitative","scale":{"domain":[-0.78,0.87]},"axis":{"values":[-0.5,0,0.5],"format":".1f","title":null}},"y":{"field":"y","type":"quantitative","scale":{"domain":[-0.97,26.1]},"axis":{"values":[0,5,10,15,20,25],"title":"-log10(Pval)"}}}}
],"spacing":53,"bounds":"flush"},
{"hconcat":[
{"width":121,"height":140,"view":{"stroke":null},"data":{"values":[{"x":7,"y":565,"t":"Recurrent vs. HOSE"}]},"mark":{"type":"text","font":"Lato","fontSize":15,"fontWeight":"bold","baseline":"middle","color":"#333"},
"encoding":{"x":{"field":"x","type":"quantitative","scale":{"domain":[0,121]},"axis":null},"y":{"field":"y","type":"quantitative","scale":{"domain":[589,449]},"axis":null},"text":{"field":"t"}}},
{"width":112,"height":140,"layer":[{"data":{"name":"g2"},"mark":{"type":"area","color":"#c1bfbd"},"encoding":{"y2":{"field":"y2"}}},{"data":{"name":"b21"},"mark":{"type":"area","color":"#3a50a4"},"encoding":{"y2":{"field":"y2"},"detail":{"field":"w"}}},{"data":{"name":"p21"},"mark":"circle"},{"data":{"name":"vl"},"mark":{"type":"rule","color":"#8a8a8a","strokeDash":[4,3],"strokeWidth":1.1},"encoding":{"y":null}},{"data":{"name":"hl"},"mark":{"type":"rule","color":"#8a8a8a","strokeDash":[4,3],"strokeWidth":1.1},"encoding":{"x":null}},{"data":{"values":[{"x":-0.785,"y":69.3,"t":"39,715"},{"x":-0.785,"y":64,"t":"48,057"}]},"mark":{"type":"text","baseline":"middle"},"encoding":{"text":{"field":"t"}}}],
"encoding":{"x":{"field":"x","type":"quantitative","scale":{"domain":[-0.952,0.924]},"axis":{"values":[-0.5,0,0.5],"format":".1f","title":null}},"y":{"field":"y","type":"quantitative","scale":{"domain":[-2.9,73.1]},"axis":{"values":[0,10,20,30,40,50,60,70],"title":"-log10(Pval)"}}}},
{"width":112,"height":140,"layer":[{"data":{"name":"g2"},"mark":{"type":"area","color":"#c1bfbd"},"encoding":{"y2":{"field":"y2"}}},{"data":{"name":"b22"},"mark":{"type":"area","color":"#3a50a4"},"encoding":{"y2":{"field":"y2"},"detail":{"field":"w"}}},{"data":{"name":"p22"},"mark":"circle"},{"data":{"name":"vl"},"mark":{"type":"rule","color":"#cfcfcf","strokeWidth":1.6},"encoding":{"y":null}},{"data":{"name":"hl"},"mark":{"type":"rule","color":"#cfcfcf","strokeWidth":1.2},"encoding":{"x":null}},{"data":{"values":[{"x":-0.78,"y":69.3,"t":"28,635"},{"x":-0.78,"y":64,"t":"33,307"}]},"mark":{"type":"text","baseline":"middle"},"encoding":{"text":{"field":"t"}}}],
"encoding":{"x":{"field":"x","type":"quantitative","scale":{"domain":[-0.964,0.929]},"axis":{"values":[-0.5,0,0.5],"format":".1f","title":null}},"y":{"field":"y","type":"quantitative","scale":{"domain":[-2.9,73.1]},"axis":{"values":[0,10,20,30,40,50,60,70],"title":"-log10(Pval)"}}}},
{"width":112,"height":140,"layer":[{"data":{"name":"g2"},"mark":{"type":"area","color":"#c1bfbd"},"encoding":{"y2":{"field":"y2"}}},{"data":{"name":"b23"},"mark":{"type":"area","color":"#3a50a4"},"encoding":{"y2":{"field":"y2"},"detail":{"field":"w"}}},{"data":{"name":"p23"},"mark":"circle"},{"data":{"name":"vl"},"mark":{"type":"rule","color":"#cfcfcf","strokeWidth":1.6},"encoding":{"y":null}},{"data":{"name":"hl"},"mark":{"type":"rule","color":"#cfcfcf","strokeWidth":1.2},"encoding":{"x":null}},{"data":{"values":[{"x":-0.82,"y":69.3,"t":"9,076"},{"x":-0.82,"y":64,"t":"12,002"}]},"mark":{"type":"text","baseline":"middle"},"encoding":{"text":{"field":"t"}}}],
"encoding":{"x":{"field":"x","type":"quantitative","scale":{"domain":[-0.895,0.834]},"axis":{"values":[-0.5,0,0.5],"format":".1f","title":null}},"y":{"field":"y","type":"quantitative","scale":{"domain":[-2.9,73.1]},"axis":{"values":[0,10,20,30,40,50,60,70],"title":"-log10(Pval)"}}}},
{"width":112,"height":140,"layer":[{"data":{"name":"g2"},"mark":{"type":"area","color":"#c1bfbd"},"encoding":{"y2":{"field":"y2"}}},{"data":{"name":"b24"},"mark":{"type":"area","color":"#3a50a4"},"encoding":{"y2":{"field":"y2"},"detail":{"field":"w"}}},{"data":{"name":"p24"},"mark":"circle"},{"data":{"name":"vl"},"mark":{"type":"rule","color":"#cfcfcf","strokeWidth":1.6},"encoding":{"y":null}},{"data":{"name":"hl"},"mark":{"type":"rule","color":"#cfcfcf","strokeWidth":1.2},"encoding":{"x":null}},{"data":{"values":[{"x":-0.754,"y":69.3,"t":"4,945"},{"x":-0.754,"y":64,"t":"8,961"}]},"mark":{"type":"text","baseline":"middle"},"encoding":{"text":{"field":"t"}}}],
"encoding":{"x":{"field":"x","type":"quantitative","scale":{"domain":[-0.81,0.858]},"axis":{"values":[-0.5,0,0.5],"format":".1f","title":null}},"y":{"field":"y","type":"quantitative","scale":{"domain":[-2.9,73.1]},"axis":{"values":[0,10,20,30,40,50,60,70],"title":"-log10(Pval)"}}}}
],"spacing":53,"bounds":"flush"},
{"hconcat":[
{"width":121,"height":141,"view":{"stroke":null},"data":{"values":[{"x":1,"y":727.5,"t":"Guad-treated vs. HOSE"}]},"mark":{"type":"text","font":"Lato","fontSize":15,"fontWeight":"bold","baseline":"middle","color":"#333"},
"encoding":{"x":{"field":"x","type":"quantitative","scale":{"domain":[0,121]},"axis":null},"y":{"field":"y","type":"quantitative","scale":{"domain":[759,618]},"axis":null},"text":{"field":"t"}}},
{"width":112,"height":141,"title":{"text":"All sites","orient":"bottom","font":"Lato","fontSize":19,"fontWeight":"bold","color":"#222","dx":7,"offset":9},"layer":[{"data":{"name":"g3"},"mark":{"type":"area","color":"#c1bfbd"},"encoding":{"y2":{"field":"y2"}}},{"data":{"name":"b31"},"mark":{"type":"area","color":"#3a50a4"},"encoding":{"y2":{"field":"y2"},"detail":{"field":"w"}}},{"data":{"name":"p31"},"mark":"circle"},{"data":{"name":"vl"},"mark":{"type":"rule","color":"#8a8a8a","strokeDash":[4,3],"strokeWidth":1.1},"encoding":{"y":null}},{"data":{"name":"hl"},"mark":{"type":"rule","color":"#8a8a8a","strokeDash":[4,3],"strokeWidth":1.1},"encoding":{"x":null}},{"data":{"values":[{"x":-0.77,"y":35.3,"t":"36,044"},{"x":-0.77,"y":32.9,"t":"41,901"}]},"mark":{"type":"text","baseline":"middle"},"encoding":{"text":{"field":"t"}}}],
"encoding":{"x":{"field":"x","type":"quantitative","scale":{"domain":[-0.938,0.893]},"axis":{"values":[-0.5,0,0.5],"format":".1f","title":"Mean difference","titleFont":"Lato","titleFontSize":11.2,"titleFontWeight":"bold","titleColor":"#333","titleX":63}},"y":{"field":"y","type":"quantitative","scale":{"domain":[-1.45,36.5]},"axis":{"values":[0,5,10,15,20,25,30,35],"title":"-log10(Pval)"}}}},
{"width":112,"height":141,"title":{"text":"Gene","orient":"bottom","font":"Lato","fontSize":19,"fontWeight":"bold","color":"#222","offset":9},"layer":[{"data":{"name":"g3"},"mark":{"type":"area","color":"#c1bfbd"},"encoding":{"y2":{"field":"y2"}}},{"data":{"name":"b32"},"mark":{"type":"area","color":"#3a50a4"},"encoding":{"y2":{"field":"y2"},"detail":{"field":"w"}}},{"data":{"name":"p32"},"mark":"circle"},{"data":{"name":"vl"},"mark":{"type":"rule","color":"#cfcfcf","strokeWidth":1.6},"encoding":{"y":null}},{"data":{"name":"hl"},"mark":{"type":"rule","color":"#cfcfcf","strokeWidth":1.2},"encoding":{"x":null}},{"data":{"values":[{"x":-0.763,"y":35.3,"t":"26,188"},{"x":-0.763,"y":32.9,"t":"29,134"}]},"mark":{"type":"text","baseline":"middle"},"encoding":{"text":{"field":"t"}}}],
"encoding":{"x":{"field":"x","type":"quantitative","scale":{"domain":[-0.944,0.92]},"axis":{"values":[-0.5,0,0.5],"format":".1f","title":"Mean difference","titleFont":"Lato","titleFontSize":11.2,"titleFontWeight":"bold","titleColor":"#333","titleX":59}},"y":{"field":"y","type":"quantitative","scale":{"domain":[-1.45,36.5]},"axis":{"values":[0,5,10,15,20,25,30,35],"title":"-log10(Pval)"}}}},
{"width":112,"height":141,"title":{"text":"Promoter","orient":"bottom","font":"Lato","fontSize":19,"fontWeight":"bold","color":"#222","dx":3,"offset":9},"layer":[{"data":{"name":"g3"},"mark":{"type":"area","color":"#c1bfbd"},"encoding":{"y2":{"field":"y2"}}},{"data":{"name":"b33"},"mark":{"type":"area","color":"#3a50a4"},"encoding":{"y2":{"field":"y2"},"detail":{"field":"w"}}},{"data":{"name":"p33"},"mark":"circle"},{"data":{"name":"vl"},"mark":{"type":"rule","color":"#cfcfcf","strokeWidth":1.6},"encoding":{"y":null}},{"data":{"name":"hl"},"mark":{"type":"rule","color":"#cfcfcf","strokeWidth":1.2},"encoding":{"x":null}},{"data":{"values":[{"x":-0.79,"y":35.3,"t":"7,686"},{"x":-0.79,"y":32.9,"t":"10,512"}]},"mark":{"type":"text","baseline":"middle"},"encoding":{"text":{"field":"t"}}}],
"encoding":{"x":{"field":"x","type":"quantitative","scale":{"domain":[-0.867,0.845]},"axis":{"values":[-0.5,0,0.5],"format":".1f","title":"Mean difference","titleFont":"Lato","titleFontSize":11.2,"titleFontWeight":"bold","titleColor":"#333","titleX":58.5}},"y":{"field":"y","type":"quantitative","scale":{"domain":[-1.45,36.5]},"axis":{"values":[0,5,10,15,20,25,30,35],"title":"-log10(Pval)"}}}},
{"width":112,"height":141,"title":{"text":"CpG island","orient":"bottom","font":"Lato","fontSize":19,"fontWeight":"bold","color":"#222","dx":3,"offset":9},"layer":[{"data":{"name":"g3"},"mark":{"type":"area","color":"#c1bfbd"},"encoding":{"y2":{"field":"y2"}}},{"data":{"name":"b34"},"mark":{"type":"area","color":"#3a50a4"},"encoding":{"y2":{"field":"y2"},"detail":{"field":"w"}}},{"data":{"name":"p34"},"mark":"circle"},{"data":{"name":"vl"},"mark":{"type":"rule","color":"#cfcfcf","strokeWidth":1.6},"encoding":{"y":null}},{"data":{"name":"hl"},"mark":{"type":"rule","color":"#cfcfcf","strokeWidth":1.2},"encoding":{"x":null}},{"data":{"values":[{"x":-0.76,"y":35.3,"t":"3,891"},{"x":-0.76,"y":32.9,"t":"7,865"}]},"mark":{"type":"text","baseline":"middle"},"encoding":{"text":{"field":"t"}}}],
"encoding":{"x":{"field":"x","type":"quantitative","scale":{"domain":[-0.823,0.9]},"axis":{"values":[-0.5,0,0.5],"format":".1f","title":"Mean difference","titleFont":"Lato","titleFontSize":11.2,"titleFontWeight":"bold","titleColor":"#333","titleX":58}},"y":{"field":"y","type":"quantitative","scale":{"domain":[-1.45,36.5]},"axis":{"values":[0,5,10,15,20,25,30,35],"title":"-log10(Pval)"}}}}
],"spacing":53,"bounds":"flush"}
]}
